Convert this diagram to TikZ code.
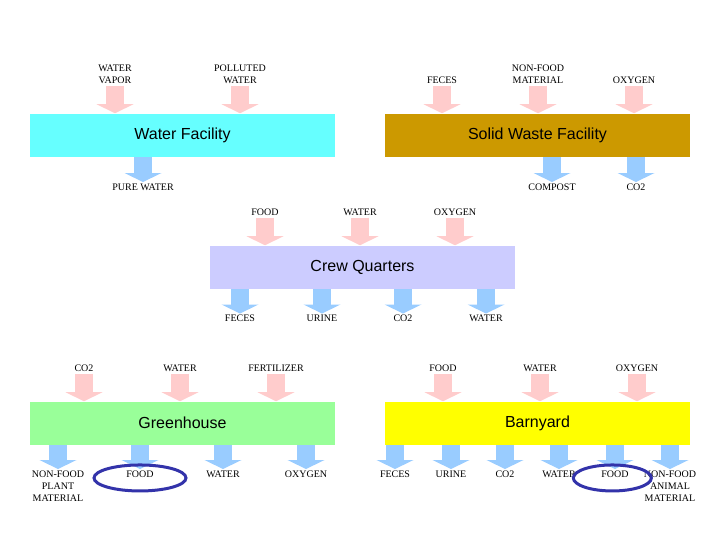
\documentclass[tikz,border=0pt]{standalone}
\usepackage{fontspec}
\setmainfont{Liberation Serif}
\newfontfamily\titulofonte{Liberation Sans}
\usetikzlibrary{arrows.meta}
\definecolor{rosa}{HTML}{FFCCCC}
\definecolor{azul}{HTML}{99CCFF}
\definecolor{ciano}{HTML}{66FFFF}
\definecolor{ouro}{HTML}{CC9900}
\definecolor{lilas}{HTML}{CCCCFF}
\definecolor{verde}{HTML}{99FF99}
\definecolor{amarelo}{HTML}{FFFF00}
\definecolor{marcador}{HTML}{3333AA}
\tikzset{
    bloco/.style={
        rectangle,
        inner sep=0pt,
        minimum width=228.75pt,
        minimum height=32.25pt,
        font=\titulofonte\fontsize{12}{14}\selectfont
    },
    rotulo/.style={
        align=center,
        inner sep=1pt,
        font=\fontsize{7.5}{9}\selectfont
    },
    entrada/.style={
        draw=rosa,
        line width=13.5pt,
        -{Triangle[width=27.75pt, length=6.75pt, line width=0pt]}
    },
    saida/.style={entrada, draw=azul},
    destaque/.style={draw=marcador, line width=2.25pt}
}

\begin{document}
\begin{tikzpicture}[x=0.75pt, y=-0.75pt]
    \useasboundingbox[fill=white] (0,0) rectangle (720,540);
    % facilities
    \node[bloco, fill=ciano] (water) at (182.5,135) {Water Facility};
    \node[bloco, fill=ouro] (waste) at (537.5,135) {Solid Waste Facility};
    \node[bloco, fill=lilas] (crew) at (362.5,267) {Crew Quarters};
    \node[bloco, fill=verde] (green) at (182.5,423) {Greenhouse};
    \node[bloco, fill=amarelo] (barn) at (537.5,423) {Barnyard};
    % water facility
    \node[rotulo, anchor=south] (wVapor) at (115,85.5) {WATER\\VAPOR};
    \node[rotulo, anchor=south] (wPolluted) at (240,85.5) {POLLUTED\\WATER};
    \node[rotulo, anchor=north] (wPure) at (143,182) {PURE WATER};
    \draw[entrada] (wVapor.south) -- (wVapor.south |- water.north);
    \draw[entrada] (wPolluted.south) -- (wPolluted.south |- water.north);
    \draw[saida] (water.south -| wPure.north) -- (wPure.north);
    % solid waste facility
    \node[rotulo, anchor=south] (sFeces) at (442,85.5) {FECES};
    \node[rotulo, anchor=south] (sNonfood) at (538,85.5) {NON-FOOD\\MATERIAL};
    \node[rotulo, anchor=south] (sOxygen) at (634,85.5) {OXYGEN};
    \node[rotulo, anchor=north] (sCompost) at (552,182) {COMPOST};
    \node[rotulo, anchor=north] (sCo2) at (636,182) {CO2};
    \draw[entrada] (sFeces.south) -- (sFeces.south |- waste.north);
    \draw[entrada] (sNonfood.south) -- (sNonfood.south |- waste.north);
    \draw[entrada] (sOxygen.south) -- (sOxygen.south |- waste.north);
    \draw[saida] (waste.south -| sCompost.north) -- (sCompost.north);
    \draw[saida] (waste.south -| sCo2.north) -- (sCo2.north);
    % crew quarters
    \node[rotulo, anchor=south] (cFood) at (265,217.5) {FOOD};
    \node[rotulo, anchor=south] (cWater) at (360,217.5) {WATER};
    \node[rotulo, anchor=south] (cOxygen) at (455,217.5) {OXYGEN};
    \node[rotulo, anchor=north] (cFeces) at (240,313.5) {FECES};
    \node[rotulo, anchor=north] (cUrine) at (322,313.5) {URINE};
    \node[rotulo, anchor=north] (cCo2) at (403,313.5) {CO2};
    \node[rotulo, anchor=north] (cWaterOut) at (486,313.5) {WATER};
    \draw[entrada] (cFood.south) -- (cFood.south |- crew.north);
    \draw[entrada] (cWater.south) -- (cWater.south |- crew.north);
    \draw[entrada] (cOxygen.south) -- (cOxygen.south |- crew.north);
    \draw[saida] (crew.south -| cFeces.north) -- (cFeces.north);
    \draw[saida] (crew.south -| cUrine.north) -- (cUrine.north);
    \draw[saida] (crew.south -| cCo2.north) -- (cCo2.north);
    \draw[saida] (crew.south -| cWaterOut.north) -- (cWaterOut.north);
    % greenhouse
    \node[rotulo, anchor=south] (gCo2) at (84,373.5) {CO2};
    \node[rotulo, anchor=south] (gWater) at (180,373.5) {WATER};
    \node[rotulo, anchor=south] (gFert) at (276,373.5) {FERTILIZER};
    \node[rotulo, anchor=north] (gNonfood) at (58,469) {NON-FOOD\\PLANT\\MATERIAL};
    \node[rotulo, anchor=north] (gFood) at (140,469) {FOOD};
    \node[rotulo, anchor=north] (gWaterOut) at (223,469) {WATER};
    \node[rotulo, anchor=north] (gOxygen) at (306,469) {OXYGEN};
    \draw[entrada] (gCo2.south) -- (gCo2.south |- green.north);
    \draw[entrada] (gWater.south) -- (gWater.south |- green.north);
    \draw[entrada] (gFert.south) -- (gFert.south |- green.north);
    \draw[saida] (green.south -| gNonfood.north) -- (gNonfood.north);
    \draw[saida] (green.south -| gFood.north) -- (gFood.north);
    \draw[saida] (green.south -| gWaterOut.north) -- (gWaterOut.north);
    \draw[saida] (green.south -| gOxygen.north) -- (gOxygen.north);
    % barnyard
    \node[rotulo, anchor=south] (bFood) at (443,373.5) {FOOD};
    \node[rotulo, anchor=south] (bWater) at (540,373.5) {WATER};
    \node[rotulo, anchor=south] (bOxygen) at (637,373.5) {OXYGEN};
    \node[rotulo, anchor=north] (bFeces) at (395,469) {FECES};
    \node[rotulo, anchor=north] (bUrine) at (451,469) {URINE};
    \node[rotulo, anchor=north] (bCo2) at (505,469) {CO2};
    \node[rotulo, anchor=north] (bWaterOut) at (559,469) {WATER};
    \node[rotulo, anchor=north] (bFoodOut) at (615,469) {FOOD};
    \node[rotulo, anchor=north] (bNonfood) at (670,469) {NON-FOOD\\ANIMAL\\MATERIAL};
    \draw[entrada] (bFood.south) -- (bFood.south |- barn.north);
    \draw[entrada] (bWater.south) -- (bWater.south |- barn.north);
    \draw[entrada] (bOxygen.south) -- (bOxygen.south |- barn.north);
    \draw[saida] (barn.south -| bFeces.north) -- (bFeces.north);
    \draw[saida] (barn.south -| bUrine.north) -- (bUrine.north);
    \draw[saida] (barn.south -| bCo2.north) -- (bCo2.north);
    \draw[saida] (barn.south -| bWaterOut.north) -- (bWaterOut.north);
    \draw[saida] (barn.south -| bFoodOut.north) -- (bFoodOut.north);
    \draw[saida] (barn.south -| bNonfood.north) -- (bNonfood.north);
    % food rings
    \draw[destaque] ([yshift=-3pt]gFood.center) ellipse [x radius=46, y radius=13];
    \draw[destaque] ([yshift=-3pt,xshift=-2pt]bFoodOut.center) ellipse [x radius=39, y radius=13];
\end{tikzpicture}
\end{document}
